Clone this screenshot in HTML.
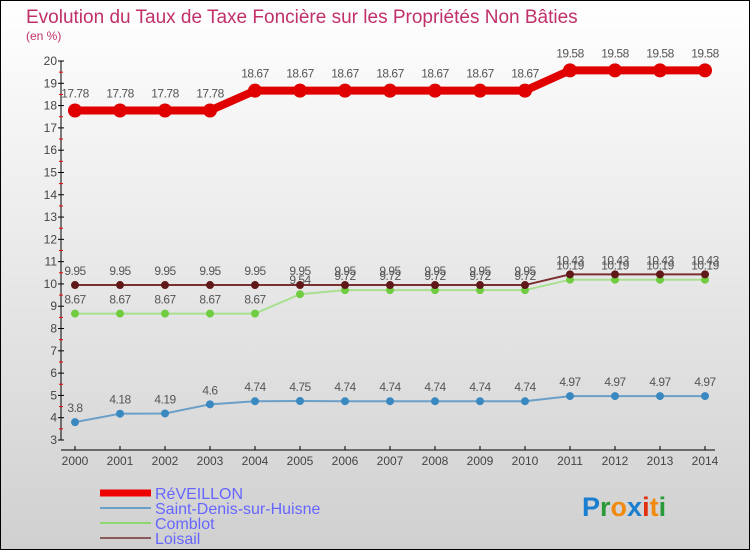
<!DOCTYPE html>
<html><head><meta charset="utf-8"><style>
body{margin:0;width:750px;height:550px;overflow:hidden;font-family:"Liberation Sans",sans-serif}
svg text{font-family:"Liberation Sans",sans-serif}
</style></head><body>
<svg id="c" width="750" height="550">
<defs><linearGradient id="bg" x1="0" y1="0" x2="0" y2="1"><stop offset="0" stop-color="#ffffff"/><stop offset="1" stop-color="#d0d0d0"/></linearGradient></defs>
<rect x="0.5" y="0.5" width="749" height="549" fill="url(#bg)" stroke="#000"/>
<text x="26" y="23" font-size="19" fill="#c0306a">Evolution du Taux de Taxe Foncière sur les Propriétés Non Bâties</text>
<text x="26" y="40" font-size="12" fill="#c0306a">(en %)</text>
<g id="axes"></g><g id="series"></g>
<g>
<line x1="100" y1="493" x2="151" y2="493" stroke="#e00" stroke-width="7"/><text x="155" y="499" font-size="16" fill="#6666ff">RéVEILLON</text>
<line x1="100" y1="508" x2="151" y2="508" stroke="#6a9fc8" stroke-width="2"/><text x="155" y="514" font-size="16" fill="#6666ff">Saint-Denis-sur-Huisne</text>
<line x1="100" y1="523" x2="151" y2="523" stroke="#8fd870" stroke-width="2"/><text x="155" y="529" font-size="16" fill="#6666ff">Comblot</text>
<line x1="100" y1="538" x2="151" y2="538" stroke="#8a5a5a" stroke-width="2"/><text x="155" y="544" font-size="16" fill="#6666ff">Loisail</text>
</g>
<text x="582" y="516" font-size="27" font-weight="bold"><tspan fill="#1a7fd0">P</tspan><tspan fill="#2a9a3a">r</tspan><tspan fill="#f08a10">o</tspan><tspan fill="#1a7fd0">x</tspan><tspan fill="#e03010">i</tspan><tspan fill="#f08a10">t</tspan><tspan fill="#2a9a3a">i</tspan></text>
</svg>
<script>
const years=[2000,2001,2002,2003,2004,2005,2006,2007,2008,2009,2010,2011,2012,2013,2014];
const reveillon=[17.78,17.78,17.78,17.78,18.67,18.67,18.67,18.67,18.67,18.67,18.67,19.58,19.58,19.58,19.58];
const saintDenis=[3.8,4.18,4.19,4.6,4.74,4.75,4.74,4.74,4.74,4.74,4.74,4.97,4.97,4.97,4.97];
const comblot=[8.67,8.67,8.67,8.67,8.67,9.54,9.72,9.72,9.72,9.72,9.72,10.19,10.19,10.19,10.19];
const loisail=[9.95,9.95,9.95,9.95,9.95,9.95,9.95,9.95,9.95,9.95,9.95,10.43,10.43,10.43,10.43];
const yTicks=[3,4,5,6,7,8,9,10,11,12,13,14,15,16,17,18,19,20];
const NS="http://www.w3.org/2000/svg";
const xS=i=>75+i*45;
const yS=v=>440-(v-3)*(379/17);
function mk(p,t,a){const e=document.createElementNS(NS,t);for(const k in a)e.setAttribute(k,a[k]);p.appendChild(e);return e;}
const ax=document.getElementById('axes');
let l=mk(ax,'line',{x1:61,y1:yS(20),x2:61,y2:yS(3),stroke:'#000'});


l=mk(ax,'line',{x1:61,y1:450,x2:715,y2:450,stroke:'#000'});


yTicks.forEach(v=>{mk(ax,'line',{x1:58,y1:yS(v),x2:64,y2:yS(v),stroke:'#000'});
 if(v<20)mk(ax,'line',{x1:59,y1:yS(v+0.5),x2:63,y2:yS(v+0.5),stroke:'#e00'});
 const t=mk(ax,'text',{x:57,y:yS(v)+4,'font-size':12,'text-anchor':'end',fill:'#444'});t.textContent=v;
 
 });
years.forEach((y,i)=>{mk(ax,'line',{x1:xS(i),y1:446,x2:xS(i),y2:450,stroke:'#000'});
 const t=mk(ax,'text',{x:xS(i),y:465,'font-size':12,'text-anchor':'middle',fill:'#444'});t.textContent=y;
 
 });
const sg=document.getElementById('series');
function draw(vals,name,col,dot,w,r){
 const g=mk(sg,'g',{});
 
 
 mk(g,'polyline',{points:vals.map((v,i)=>xS(i)+','+yS(v)).join(' '),fill:'none',stroke:col,'stroke-width':w});
 vals.forEach((v,i)=>{const c=mk(g,'circle',{cx:xS(i),cy:yS(v),r:r,fill:dot});
  
  
  const t=mk(g,'text',{x:xS(i),y:yS(v)-(r+6),'font-size':12,'text-anchor':'middle',fill:'#555','letter-spacing':'-0.5'});t.textContent=v;
  
  });
}
draw(saintDenis,'saint-denis','#6a9fc8','#3a88c0',2,4);
draw(comblot,'comblot','#a8e090','#70cc40',2,4);
draw(loisail,'loisail','#7a3030','#601818',2,4);
draw(reveillon,'reveillon','#e00000','#e00000',8,7);
</script>
</body></html>
